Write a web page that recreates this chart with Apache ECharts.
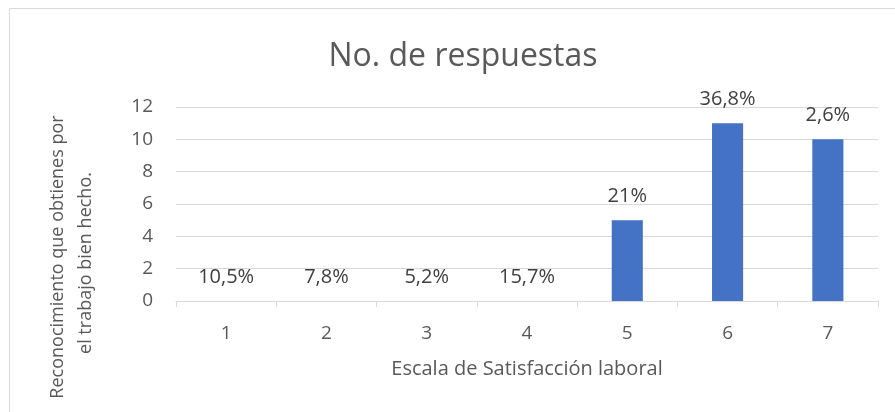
<!DOCTYPE html>
<html><head><meta charset="utf-8">
<script src="https://cdn.jsdelivr.net/npm/echarts@6/dist/echarts.min.js"></script>
<style>html,body{margin:0;padding:0;background:#fff}#c{width:895px;height:412px}</style>
</head><body><div id="c"></div>
<script>
const categories = ['1','2','3','4','5','6','7'];
const values = [0,0,0,0,5,11,10];
const labels = ['10,5%','7,8%','5,2%','15,7%','21%','36,8%','2,6%'];
const yTicks = [0,2,4,6,8,10,12];

const chart = echarts.init(document.getElementById('c'));
const FONT = 'Open Sans';
chart.setOption({
  animation: false,
  textStyle: {fontFamily: FONT},
  title: {text: 'No. de respuestas', left: 458, top: 36, textAlign: 'center',
    textStyle: {fontFamily: FONT, fontSize: 32, fontWeight: 'normal', color: '#595959'}},
  graphic: [
    {type: 'rect', shape: {x: 9.5, y: 8.5, width: 900, height: 420}, style: {fill: 'none', stroke: '#d9d9d9', lineWidth: 1}},
    {type: 'text', x: 58, y: 257, rotation: Math.PI/2, style: {text: 'Reconocimiento que obtienes por', fontFamily: FONT, fontSize: 18, fill: '#595959', align: 'center', verticalAlign: 'middle'}},
    {type: 'text', x: 86, y: 263, rotation: Math.PI/2, style: {text: 'el trabajo bien hecho.', fontFamily: FONT, fontSize: 18, fill: '#595959', align: 'center', verticalAlign: 'middle'}}
  ],
  grid: {left: 176, right: 17, top: 107, bottom: 111},
  xAxis: {type: 'category', data: categories,
    name: 'Escala de Satisfacción laboral', nameLocation: 'middle', nameGap: 58,
    nameTextStyle: {fontFamily: FONT, fontSize: 20, color: '#595959'},
    axisLine: {lineStyle: {color: '#d9d9d9', width: 1}},
    axisTick: {show: true, length: 6, lineStyle: {color: '#d9d9d9'}},
    axisLabel: {fontFamily: FONT, fontSize: 19, color: '#595959', margin: 23}},
  yAxis: {type: 'value', min: 0, max: 12, interval: 2,
    axisLine: {show: false}, axisTick: {show: false},
    splitLine: {lineStyle: {color: '#d9d9d9', width: 1}},
    axisLabel: {fontFamily: FONT, fontSize: 19, color: '#595959', margin: 23,
      formatter: v => yTicks.includes(v) ? String(v) : ''}},
  series: [{type: 'bar', data: values, barWidth: '31%',
    itemStyle: {color: '#4472c4'},
    label: {show: true, position: 'top', distance: 14, fontFamily: FONT, fontSize: 20, color: '#404040',
      formatter: p => labels[p.dataIndex]}}]
});
</script></body></html>
